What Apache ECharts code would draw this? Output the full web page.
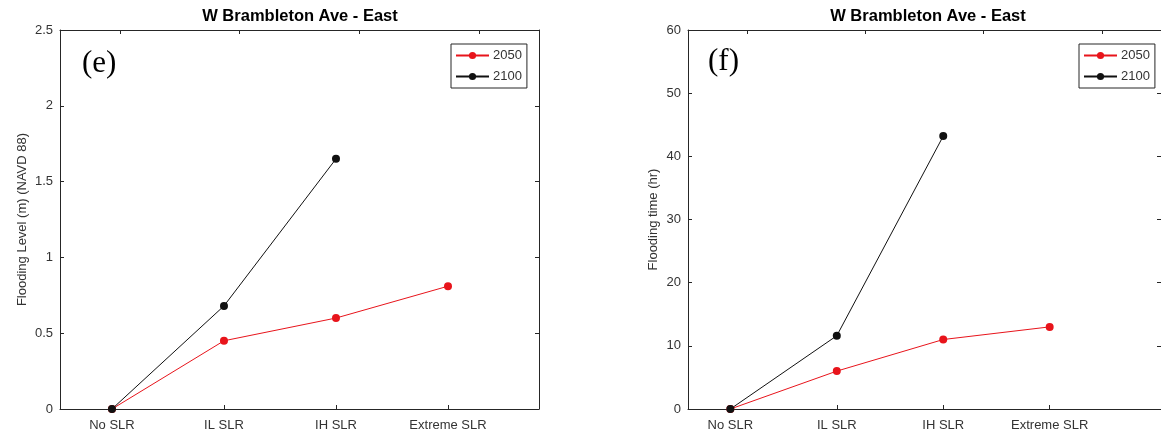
<!DOCTYPE html>
<html>
<head>
<meta charset="utf-8">
<script src="https://cdn.jsdelivr.net/npm/echarts@6/dist/echarts.min.js"></script>
<style>
  html, body { margin: 0; padding: 0; background: #fff; }
  #chart { width: 1161px; height: 438px; }
</style>
</head>
<body>
<div id="chart"></div>
<script>
// Scenario categories along the x axis
const categories = ['No SLR', 'IL SLR', 'IH SLR', 'Extreme SLR'];

// Panel (e): flooding level (m, NAVD 88)
const level2050 = [0, 0.45, 0.60, 0.81];
const level2100 = [0, 0.68, 1.65];

// Panel (f): flooding time (hr)
const time2050 = [0, 6, 11, 13];
const time2100 = [0, 11.6, 43.2];

const levelTicks = [0, 0.5, 1, 1.5, 2, 2.5];
const timeTicks = [0, 10, 20, 30, 40, 50, 60];

const TITLE = 'W Brambleton Ave - East';
const FONT = '"Liberation Sans", Arial, Helvetica, sans-serif';
const SERIF = '"Liberation Serif", "Times New Roman", serif';
const AXIS_COLOR = '#262626';
const LABEL_COLOR = '#333';
const RED = '#e8141b';
const BLACK = '#111';

const catPos = categories.map((_, i) => i + 1);
const toPoints = arr => arr.map((v, i) => [i + 1, v]);

const axisLine = { show: true, onZero: false, lineStyle: { color: AXIS_COLOR, width: 1 } };

function bottomAxis(grid, min, max) {
  return {
    type: 'value', gridIndex: grid, position: 'bottom', min, max,
    axisLine,
    axisTick: { show: true, inside: true, length: 4, customValues: catPos, lineStyle: { color: AXIS_COLOR } },
    axisLabel: {
      show: true, customValues: catPos, margin: 10,
      color: LABEL_COLOR, fontFamily: FONT, fontSize: 13,
      formatter: v => categories[Math.round(v) - 1] || ''
    },
    splitLine: { show: false }
  };
}
// Box edge along the top, with its own evenly spaced inward ticks
function topAxis(grid) {
  return {
    type: 'value', gridIndex: grid, position: 'top', min: 0, max: 4,
    axisLine,
    axisTick: { show: true, inside: true, length: 4, customValues: [0.5, 1.5, 2.5, 3.5], lineStyle: { color: AXIS_COLOR } },
    axisLabel: { show: false },
    splitLine: { show: false }
  };
}
function leftAxis(grid, ticks, name, gap) {
  return {
    type: 'value', gridIndex: grid, position: 'left',
    min: ticks[0], max: ticks[ticks.length - 1], interval: ticks[1] - ticks[0],
    name, nameLocation: 'middle', nameGap: gap,
    nameTextStyle: { color: LABEL_COLOR, fontFamily: FONT, fontSize: 13 },
    axisLine,
    axisTick: { show: true, inside: true, length: 4, lineStyle: { color: AXIS_COLOR } },
    axisLabel: { show: true, margin: 7, color: LABEL_COLOR, fontFamily: FONT, fontSize: 13 },
    splitLine: { show: false }
  };
}
function rightAxis(grid, ticks) {
  return {
    type: 'value', gridIndex: grid, position: 'right',
    min: ticks[0], max: ticks[ticks.length - 1], interval: ticks[1] - ticks[0],
    axisLine,
    axisTick: { show: true, inside: true, length: 4, lineStyle: { color: AXIS_COLOR } },
    axisLabel: { show: false },
    splitLine: { show: false }
  };
}
function lineSeries(name, color, data, xi, yi) {
  return {
    name, type: 'line', xAxisIndex: xi, yAxisIndex: yi, data: toPoints(data),
    symbol: 'circle', symbolSize: 8, clip: false, animation: false,
    itemStyle: { color },
    lineStyle: { color, width: 1 }
  };
}
function legendAt(left) {
  return {
    left, top: 44, orient: 'vertical',
    data: ['2050', '2100'],
    itemWidth: 33, itemHeight: 9, itemGap: 8,
    padding: [5, 5, 5, 4],
    borderColor: AXIS_COLOR, borderWidth: 1, borderRadius: 0,
    backgroundColor: '#fff',
    textStyle: { color: LABEL_COLOR, fontFamily: FONT, fontSize: 13, padding: [0, 0, 0, -1] },
    selectedMode: false
  };
}

const chart = echarts.init(document.getElementById('chart'), null, { renderer: 'canvas' });
chart.setOption({
  backgroundColor: '#fff',
  animation: false,
  title: [
    { text: TITLE, left: 295, top: 3, textAlign: 'center',
      textStyle: { fontFamily: FONT, fontSize: 16.5, fontWeight: 'bold', color: '#000' } },
    { text: TITLE, left: 923, top: 3, textAlign: 'center',
      textStyle: { fontFamily: FONT, fontSize: 16.5, fontWeight: 'bold', color: '#000' } }
  ],
  grid: [
    { left: 60, top: 30, width: 479, height: 379 },
    { left: 688, top: 30, width: 480, height: 379 }
  ],
  xAxis: [
    bottomAxis(0, 0.536, 4.8125),
    topAxis(0),
    bottomAxis(1, 0.602, 5.046),
    topAxis(1)
  ],
  yAxis: [
    leftAxis(0, levelTicks, 'Flooding Level (m) (NAVD 88)', 31),
    rightAxis(0, levelTicks),
    leftAxis(1, timeTicks, 'Flooding time (hr)', 28),
    rightAxis(1, timeTicks)
  ],
  legend: [legendAt(451), legendAt(1079)],
  graphic: [
    { type: 'text', left: 82, top: 48,
      style: { text: '(e)', font: '31px ' + SERIF, fill: '#000' } },
    { type: 'text', left: 708, top: 46,
      style: { text: '(f)', font: '31px ' + SERIF, fill: '#000' } }
  ],
  series: [
    lineSeries('2050', RED, level2050, 0, 0),
    lineSeries('2100', BLACK, level2100, 0, 0),
    lineSeries('2050', RED, time2050, 2, 2),
    lineSeries('2100', BLACK, time2100, 2, 2)
  ]
});
</script>
</body>
</html>
